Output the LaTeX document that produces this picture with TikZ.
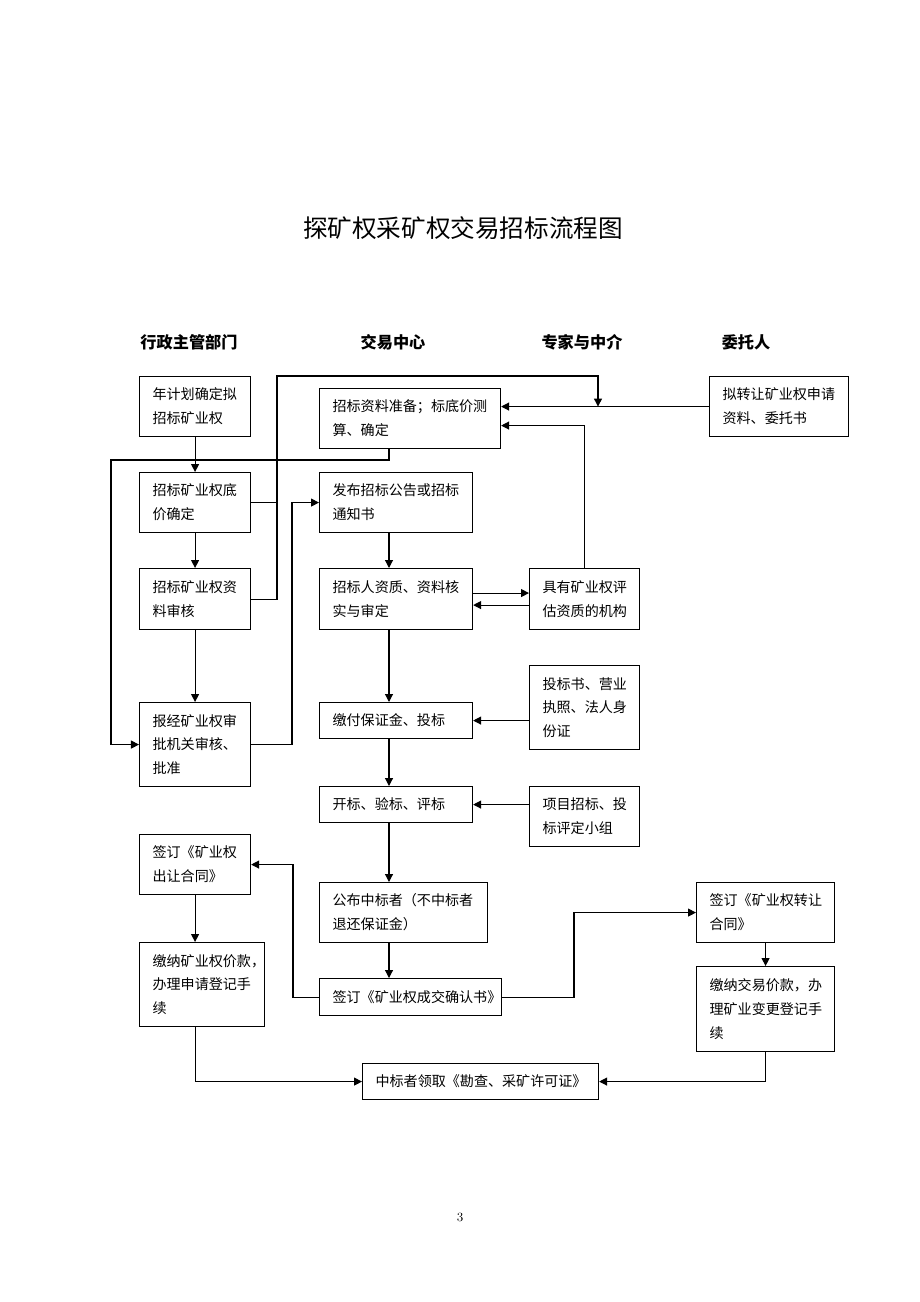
\documentclass[tikz,border=0pt]{standalone}
\usepackage{fontspec}
\usepackage{xcolor}
\usepackage{tikz}
\usetikzlibrary{calc,arrows.meta}
\newfontfamily\cjk{Noto Sans CJK SC}
\definecolor{ink}{HTML}{000000}
\tikzset{
  box/.style 2 args={draw=ink, line width=0.8pt, anchor=north west, align=left,
    font=\cjk\fontsize{10pt}{17pt}\selectfont,
    inner xsep=0.325cm, inner ysep=0pt,
    text width=(#1-26)*0.025cm, minimum height=#2*0.025cm},
  line/.style={draw=ink, line width=0.8pt},
  arr/.style={draw=ink, line width=0.8pt, -{Triangle[length=2mm,width=2mm]}},
  head/.style={text=ink, font=\cjk\bfseries\fontsize{11.5pt}{14pt}\selectfont},
  title/.style={text=ink, font=\cjk\fontsize{17.5pt}{21pt}\selectfont},
}

\begin{document}
\begin{tikzpicture}[x=0.025cm,y=-0.025cm]
  \useasboundingbox[fill=white] (0,0) rectangle (920,1302);

  \node[title] (title) at (463,228) {探矿权采矿权交易招标流程图};

  \node[head] (hadmin) at (189,342) {行政主管部门};
  \node[head] (hcenter) at (393,342) {交易中心};
  \node[head] (hexpert) at (582,342) {专家与中介};
  \node[head] (hclient) at (746,342) {委托人};

  % left column
  \node[box={111}{60}] (lplan) at (139,376) {年计划确定拟\\招标矿业权};
  \node[box={111}{60}] (lbase) at (139,472) {招标矿业权底\\价确定};
  \node[box={111}{61}] (lcheck) at (139,568) {招标矿业权资\\料审核};
  \node[box={111}{84}] (lapprove) at (139,702) {报经矿业权审\\批机关审核、\\批准};
  \node[box={111}{60}] (lsign) at (139,834) {签订《矿业权\\出让合同》};
  \node[box={125}{84}] (lpay) at (139,942) {缴纳矿业权价款，\\办理申请登记手\\续};

  % trading centre
  \node[box={181}{60}] (cprep) at (319,388) {招标资料准备；标底价测\\算、确定};
  \node[box={153}{60}] (cnotice) at (319,472) {发布招标公告或招标\\通知书};
  \node[box={153}{61}] (cverify) at (319,568) {招标人资质、资料核\\实与审定};
  \node[box={153}{36}] (cdeposit) at (319,702) {缴付保证金、投标};
  \node[box={153}{36}] (copen) at (319,786) {开标、验标、评标};
  \node[box={168}{60}] (cpublish) at (319,882) {公布中标者（不中标者\\退还保证金）};
  \node[box={182}{37}] (cconfirm) at (319,978) {签订《矿业权成交确认书》};

  % experts, client
  \node[box={110}{61}] (eorg) at (529,568) {具有矿业权评\\估资质的机构};
  \node[box={110}{84}] (edocs) at (529,665) {投标书、营业\\执照、法人身\\份证};
  \node[box={110}{60}] (egroup) at (529,786) {项目招标、投\\标评定小组};
  \node[box={139}{60}] (wapply) at (709,376) {拟转让矿业权申请\\资料、委托书};
  \node[box={138}{60}] (rsign) at (696,882) {签订《矿业权转让\\合同》};
  \node[box={138}{85}] (rpay) at (696,966) {缴纳交易价款，办\\理矿业变更登记手\\续};

  \node[box={236}{36}] (license) at (362,1063) {中标者领取《勘查、采矿许可证》};

  \node[font=\small] (page) at (460,1217) {3};

  % bends
  \coordinate (cx) at (389,0);
  \coordinate (lx) at (111,460);
  \coordinate (ux) at (277,376);
  \coordinate (dx) at (598,0);
  \coordinate (nx) at (292,0);
  \coordinate (sx) at (293,0);
  \coordinate (tx) at (574,0);

  \draw[arr] (lplan) -- (lbase);
  \draw[arr] (lbase) -- (lcheck);
  \draw[arr] (lcheck) -- (lapprove);
  \draw[arr] (cprep.south -| cx) |- (lx) |- (lapprove.west);
  \draw[line] (lbase.east) -- (lbase.east -| ux);
  \draw[arr] (wapply.west) -- (wapply.west -| cprep.east);
  \draw[arr] (lcheck.east) -| (ux) -| (dx |- wapply.west);
  \draw[arr] (lapprove.east) -| (nx |- cnotice.west) -- (cnotice.west);
  \draw[arr] (eorg.north) |- ([yshift=-0.175cm]cprep.east);

  \draw[arr] (cnotice.south -| cx) -- (cverify.north -| cx);
  \draw[arr] ([yshift=0.15cm]cverify.east) -- ([yshift=0.15cm]cverify.east -| eorg.west);
  \draw[arr] ([yshift=-0.15cm]eorg.west) -- ([yshift=-0.15cm]eorg.west -| cverify.east);
  \draw[arr] (cverify.south -| cx) -- (cdeposit.north -| cx);
  \draw[arr] (edocs.west |- cdeposit.east) -- (cdeposit.east);
  \draw[arr] (cdeposit.south -| cx) -- (copen.north -| cx);
  \draw[arr] (egroup.west |- copen.east) -- (copen.east);
  \draw[arr] (copen.south -| cx) -- (cpublish.north -| cx);
  \draw[arr] (cpublish.south -| cx) -- (cconfirm.north -| cx);

  \draw[arr] (cconfirm.west) -| (sx |- lsign.east) -- (lsign.east);
  \draw[arr] (cconfirm.east) -| (tx |- rsign.west) -- (rsign.west);
  \draw[arr] (lsign) -- (lsign |- lpay.north);
  \draw[arr] (rsign) -- (rpay);
  \draw[arr] (lsign |- lpay.south) |- (license.west);
  \draw[arr] (rpay.south) |- (license.east);
\end{tikzpicture}
\end{document}
